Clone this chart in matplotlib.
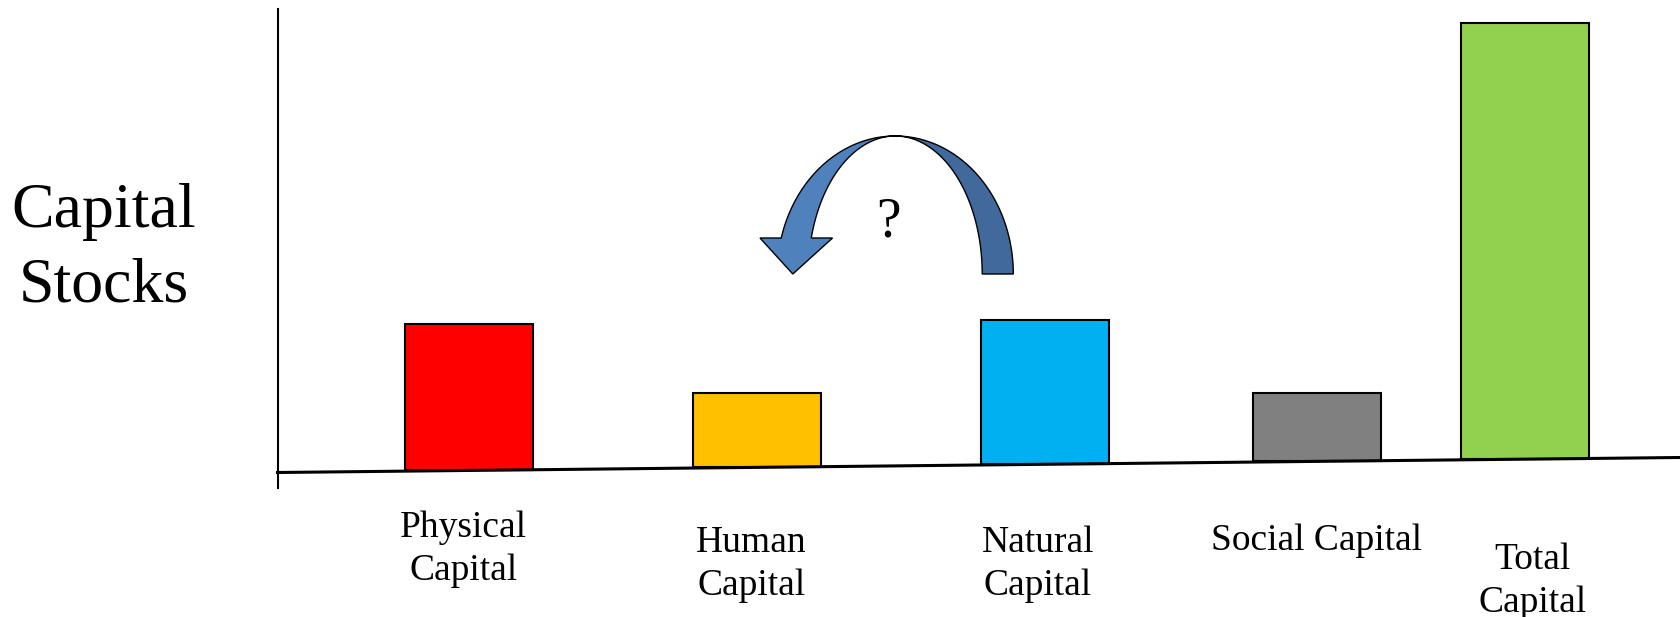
import numpy as np
import matplotlib.pyplot as plt
from matplotlib.patches import Polygon
from matplotlib import transforms

plt.rcParams['font.family'] = ['Liberation Serif', 'DejaVu Serif']

# data
categories = ['Physical\nCapital', 'Human\nCapital', 'Natural\nCapital', 'Social Capital', 'Total\nCapital']
values = [14.6, 7.4, 14.4, 6.8, 43.6]
colors = ['#FF0000', '#FFC000', '#00B0F0', '#808080', '#92D050']

# layout
positions = np.array([1.0, 2.0, 3.0, 3.944, 4.667])
label_dx = [-0.02, -0.02, -0.025, 0.0, 0.027]
label_y = [0.110, 0.086, 0.086, 0.123, 0.058]   # figure fraction
x0, x1 = 0.335, 5.205
tilt = 1.5  # baseline rise over the full width

def base(x):
    return tilt * (np.asarray(x) - x0) / (x1 - x0)

fig = plt.figure(figsize=(16.8, 6.17), dpi=100)
ax = fig.add_axes([277.5/1680, 1-487.5/617, 1-277.5/1680, (487.5-8.6)/617])
ax.set_xlim(x0, x1)
ax.set_ylim(-1.5, 46.39)
for s in ['top', 'right', 'bottom']:
    ax.spines[s].set_visible(False)
ax.spines['left'].set_linewidth(1.5)
ax.set_xticks([])
ax.set_yticks([])

# slanted baseline
ax.plot([x0, x1], [base(x0), base(x1)], color='black', lw=2.2, zorder=4, clip_on=False)

ax.bar(positions, values, width=0.444, bottom=base(positions), color=colors,
       edgecolor='black', linewidth=1.5, zorder=3)

# category labels
tr = transforms.blended_transform_factory(ax.transData, fig.transFigure)
for p, lab, dx, ly in zip(positions, categories, label_dx, label_y):
    ax.text(p + dx, ly, lab, transform=tr, ha='center', va='center',
            fontsize=27, linespacing=1.32)

fig.text(104/1680, 0.596, 'Capital\nStocks', ha='center', va='center',
         fontsize=46, linespacing=1.38)

# curved arrow from Natural towards Human
cx, cy = 2.48, 19.85
a_out, a_in, b = 0.41, 0.302, 13.8
head_rise = 3.6
head_half = 0.126

t = np.linspace(0, np.pi/2, 60)
right = np.vstack([
    np.column_stack([cx + a_out*np.cos(t), cy + b*np.sin(t)]),
    np.column_stack([cx + a_in*np.cos(t[::-1]), cy + b*np.sin(t[::-1])]),
])
ax.add_patch(Polygon(right, closed=True, facecolor='#41699C', edgecolor='black',
                     lw=1.0, zorder=5))

tb = np.pi - np.arcsin(head_rise / b)
t2 = np.linspace(np.pi/2, tb, 60)
outer = np.column_stack([cx + a_out*np.cos(t2), cy + b*np.sin(t2)])
inner = np.column_stack([cx + a_in*np.cos(t2[::-1]), cy + b*np.sin(t2[::-1])])
mid = (outer[-1, 0] + inner[0, 0]) / 2
head = np.array([[mid - head_half, cy + head_rise],
                 [mid - 0.012, cy],
                 [mid + head_half, cy + head_rise]])
left = np.vstack([outer, head, inner])
ax.add_patch(Polygon(left, closed=True, facecolor='#4F81BD', edgecolor='black',
                     lw=1.0, zorder=5))

ax.text(cx - 0.022, 25.0, '?', ha='center', va='center', fontsize=40)

fig.savefig('out.png', dpi=100)
